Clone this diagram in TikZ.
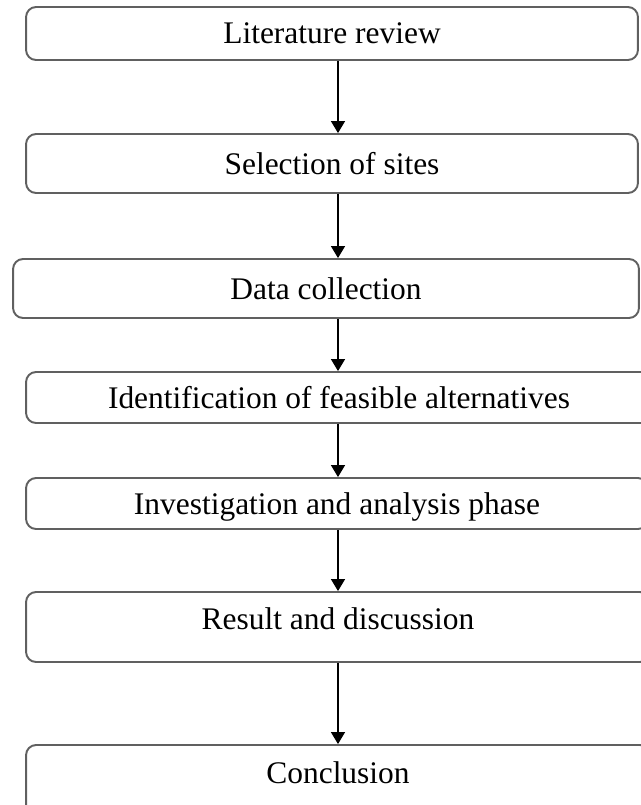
\documentclass[tikz,border=0pt]{standalone}
\usepackage{fontspec}
\setmainfont{Liberation Serif}
\usetikzlibrary{arrows.meta}

\tikzset{
  stepbox/.style={draw=gray!75!black, line width=1.1pt, rounded corners=0.2cm,
    inner sep=0pt, text depth=0pt, font=\fontsize{17.9}{21}\selectfont},
  flow/.style={-{Triangle[length=0.24cm,width=0.28cm]}, line width=0.8pt}
}

\begin{document}
\begin{tikzpicture}[x=0.02cm, y=-0.02cm]

                    \useasboundingbox (0,0) rectangle (641,805);
                    \clip (0,0) rectangle (641,805);

                    % boxes
                    \node[stepbox, minimum width=12.24cm, minimum height=1.06cm] (lit) at (332,33.5) {Literature review};
                    \node[stepbox, minimum width=12.24cm, minimum height=1.18cm] (sel) at (332,163.5) {Selection of sites};
                    \node[stepbox, minimum width=12.52cm, minimum height=1.18cm] (data) at (326,288.5) {Data collection};
                    \node[stepbox, minimum width=12.52cm, minimum height=1.02cm] (ident) at (339,397.5) {Identification of feasible alternatives};
                    \node[stepbox, minimum width=12.44cm, minimum height=1.02cm] (invest) at (337,503.5) {Investigation and analysis phase};
                    \node[stepbox, minimum width=12.48cm, minimum height=1.4cm, text depth=0.32cm] (result) at (338,627) {Result and discussion};
                    \node[stepbox, minimum width=12.48cm, minimum height=1.4cm, text depth=0.28cm] (concl) at (338,780) {Conclusion};

                    % arrows
                    \coordinate (ax) at (338,0);
                    \draw[flow] (lit.south -| ax) -- (sel.north -| ax);
                    \draw[flow] (sel.south -| ax) -- (data.north -| ax);
                    \draw[flow] (data.south -| ax) -- (ident.north -| ax);
                    \draw[flow] (ident.south -| ax) -- (invest.north -| ax);
                    \draw[flow] (invest.south -| ax) -- (result.north -| ax);
                    \draw[flow] (result.south -| ax) -- (concl.north -| ax);

\end{tikzpicture}
\end{document}
